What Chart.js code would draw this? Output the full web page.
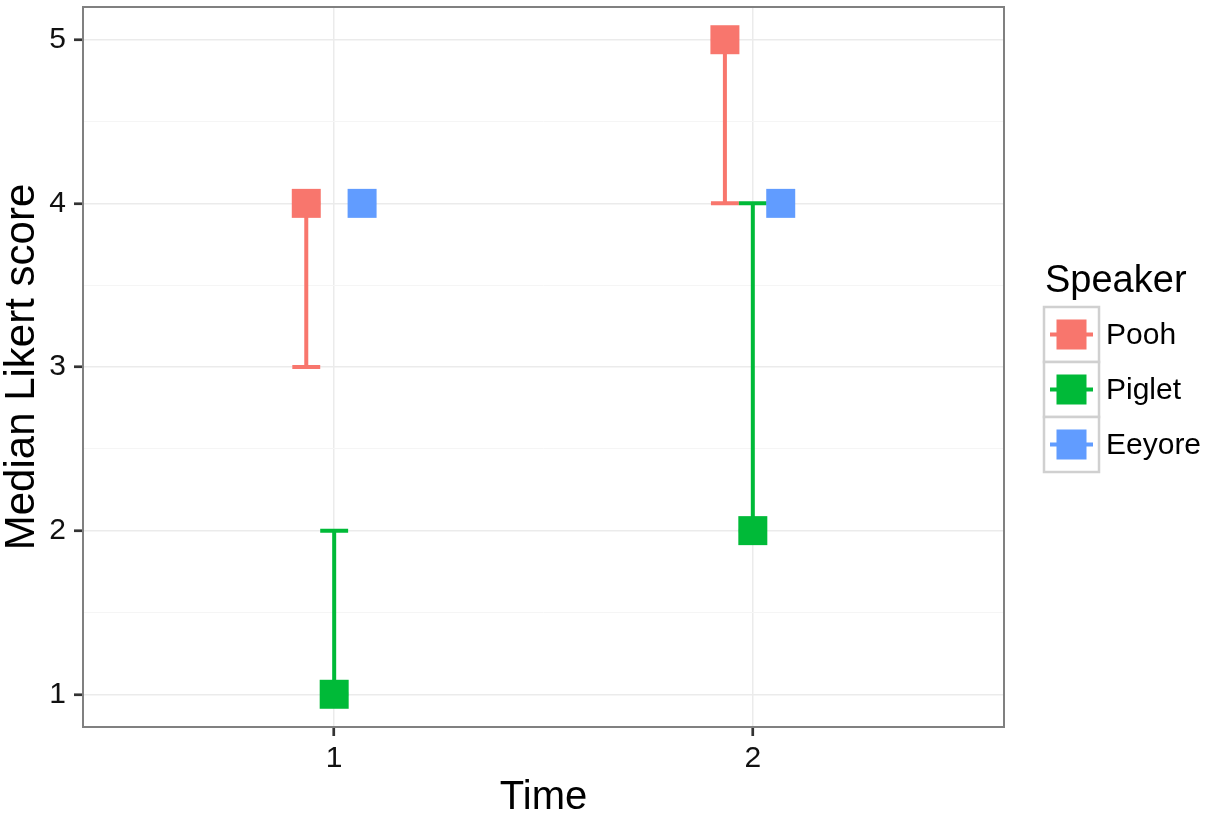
<!DOCTYPE html>
<html>
<head>
<meta charset="utf-8">
<script src="https://cdn.jsdelivr.net/npm/chart.js@4.4.1/dist/chart.umd.min.js"></script>
<style>
  html, body { margin: 0; padding: 0; background: #ffffff; }
  #wrap { width: 1210px; height: 817px; position: relative; }
</style>
</head>
<body>
<div id="wrap"><canvas id="c"></canvas></div>
<script>
// ---- data ----
const speakers = ['Pooh', 'Piglet', 'Eeyore'];
const speakerColors = ['#F8766D', '#00BA38', '#619CFF'];
const times = [1, 2];
const timeLabels = ['1', '2'];
const medianPooh = [4, 5];
const medianPiglet = [1, 2];
const medianEeyore = [4, 4];
const lowerPooh = [3, 4];
const lowerPiglet = [1, 2];
const lowerEeyore = [4, 4];
const upperPooh = [4, 5];
const upperPiglet = [2, 4];
const upperEeyore = [4, 4];
const yTicks = [1, 2, 3, 4, 5];
const yMinorTicks = [1.5, 2.5, 3.5, 4.5];
const yTitle = 'Median Likert score';
const xTitle = 'Time';
const legendTitle = 'Speaker';

// ---- derived ----
const medians = [medianPooh, medianPiglet, medianEeyore];
const lowers = [lowerPooh, lowerPiglet, lowerEeyore];
const uppers = [upperPooh, upperPiglet, upperEeyore];
const dodgeWidth = 0.2;
const capWidth = dodgeWidth / 3;
const dodge = i => (i - (speakers.length - 1) / 2) * dodgeWidth / 3;
const FONT = "'Liberation Sans', Arial, Helvetica, sans-serif";

const datasets = speakers.map((s, i) => ({
  label: s,
  data: times.map((t, j) => ({ x: t + dodge(i), y: medians[i][j] })),
  backgroundColor: speakerColors[i],
  borderColor: speakerColors[i],
  borderWidth: 0,
  pointStyle: 'rect',
  pointRadius: 20.5,
  pointHoverRadius: 20.5,
  showLine: false
}));

const isMajor = v => yTicks.includes(v);

const errorBarPlugin = {
  id: 'errorBars',
  beforeDatasetsDraw(chart) {
    const ctx = chart.ctx;
    const xs = chart.scales.x, ys = chart.scales.y;
    const a = chart.chartArea;
    ctx.save();
    ctx.strokeStyle = '#808080';
    ctx.lineWidth = 2;
    ctx.strokeRect(a.left, a.top, a.right - a.left, a.bottom - a.top);
    ctx.lineWidth = 4;
    ctx.lineCap = 'butt';
    speakers.forEach((s, i) => {
      ctx.strokeStyle = speakerColors[i];
      times.forEach((t, j) => {
        const xc = xs.getPixelForValue(t + dodge(i));
        const xl = xs.getPixelForValue(t + dodge(i) - capWidth / 2);
        const xr = xs.getPixelForValue(t + dodge(i) + capWidth / 2);
        const yl = ys.getPixelForValue(lowers[i][j]);
        const yu = ys.getPixelForValue(uppers[i][j]);
        ctx.beginPath();
        ctx.moveTo(xc, yl); ctx.lineTo(xc, yu);
        ctx.moveTo(xl, yl); ctx.lineTo(xr, yl);
        ctx.moveTo(xl, yu); ctx.lineTo(xr, yu);
        ctx.stroke();
      });
    });
    ctx.restore();
  },
  afterDraw(chart) {
    const ctx = chart.ctx;
    const a = chart.chartArea;
    ctx.save();
    const lx = a.right + 40;
    ctx.fillStyle = '#000';
    ctx.font = '38px ' + FONT;
    ctx.textAlign = 'left';
    ctx.textBaseline = 'alphabetic';
    ctx.fillText(legendTitle, lx + 1, 292);
    const keySize = 55;
    const top0 = 307;
    speakers.forEach((s, i) => {
      const ky = top0 + i * keySize;
      ctx.fillStyle = '#ffffff';
      ctx.fillRect(lx, ky, keySize, keySize);
      ctx.strokeStyle = '#d0d0d0';
      ctx.lineWidth = 2.5;
      ctx.strokeRect(lx, ky, keySize, keySize);
      const cx = lx + keySize / 2, cy = ky + keySize / 2;
      ctx.strokeStyle = speakerColors[i];
      ctx.lineWidth = 4;
      ctx.beginPath();
      ctx.moveTo(lx + 6, cy); ctx.lineTo(lx + keySize - 6, cy);
      ctx.stroke();
      ctx.fillStyle = speakerColors[i];
      ctx.fillRect(cx - 15, cy - 15, 30, 30);
      ctx.fillStyle = '#000';
      ctx.font = '30px ' + FONT;
      ctx.textBaseline = 'middle';
      ctx.fillText(s, lx + keySize + 7, cy + 1);
    });
    ctx.restore();
  }
};

new Chart(document.getElementById('c'), {
  type: 'scatter',
  data: { datasets },
  options: {
    responsive: true,
    maintainAspectRatio: false,
    animation: false,
    events: [],
    layout: { autoPadding: false, padding: { top: 7, right: 206, left: 0, bottom: 0 } },
    plugins: { legend: { display: false }, tooltip: { enabled: false } },
    scales: {
      x: {
        type: 'linear',
        min: 0.4,
        max: 2.6,
        afterBuildTicks: sc => { sc.ticks = times.map(v => ({ value: v })); },
        afterFit: sc => { sc.height = 90; sc.paddingLeft = 0; sc.paddingRight = 0; },
        ticks: {
          callback: (v) => timeLabels[times.indexOf(v)] ?? '',
          color: '#111',
          font: { family: FONT, size: 30 },
          padding: 5,
          maxRotation: 0
        },
        grid: {
          color: '#ebebeb',
          lineWidth: 1.5,
          tickColor: '#333333',
          tickLength: 9,
          tickWidth: 2.7
        },
        border: { display: false },
        title: {
          display: true,
          text: xTitle,
          color: '#000',
          font: { family: FONT, size: 40 },
          padding: { top: 0, bottom: -5 }
        }
      },
      y: {
        type: 'linear',
        min: 0.8,
        max: 5.2,
        afterBuildTicks: sc => {
          sc.ticks = yTicks.concat(yMinorTicks).sort((p, q) => p - q).map(v => ({ value: v }));
        },
        afterFit: sc => { sc.width = 83; sc.paddingTop = 0; sc.paddingBottom = 0; },
        ticks: {
          callback: (v) => isMajor(v) ? String(v) : '',
          color: '#111',
          font: { family: FONT, size: 30 },
          padding: 8,
          autoSkip: false
        },
        grid: {
          color: c => isMajor(c.tick.value) ? '#ebebeb' : '#f5f5f5',
          lineWidth: c => isMajor(c.tick.value) ? 1.5 : 1,
          tickColor: c => isMajor(c.tick.value) ? '#333333' : 'rgba(0,0,0,0)',
          tickLength: 9,
          tickWidth: 2.7
        },
        border: { display: false },
        title: {
          display: true,
          text: yTitle,
          color: '#000',
          font: { family: FONT, size: 42 },
          padding: { top: -3, bottom: 0 }
        }
      }
    }
  },
  plugins: [errorBarPlugin]
});
</script>
</body>
</html>
